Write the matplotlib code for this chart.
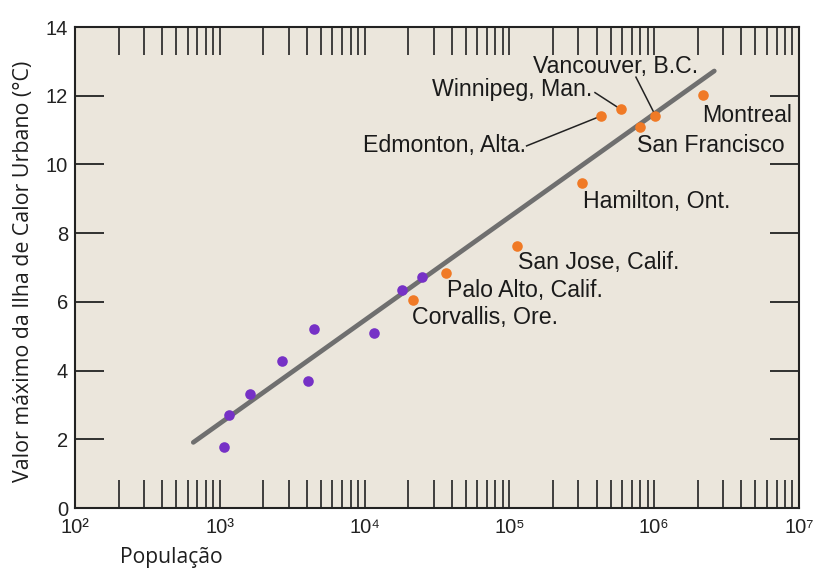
import numpy as np
import matplotlib
matplotlib.use("Agg")
import matplotlib.pyplot as plt
from matplotlib.ticker import LogLocator, FixedLocator, FuncFormatter, NullFormatter

plt.rcParams["font.family"] = ["Liberation Sans", "DejaVu Sans"]

# ---- data ----
purple_pop = [1074, 1163, 1617, 2675, 4087, 4475, 11610, 18040, 24800]
purple_dt = [1.78, 2.71, 3.32, 4.29, 3.71, 5.21, 5.08, 6.34, 6.71]

orange_names = ["Corvallis, Ore.", "Palo Alto, Calif.", "San Jose, Calif.", "Hamilton, Ont.",
                "Edmonton, Alta.", "Winnipeg, Man.", "San Francisco", "Vancouver, B.C.", "Montreal"]
orange_pop = [21700, 36300, 113500, 318700, 429400, 590000, 798000, 1020000, 2180000]
orange_dt = [6.05, 6.85, 7.63, 9.47, 11.41, 11.60, 11.08, 11.42, 12.02]

fit_pop = [656, 2600000]
fit_dt = [1.91, 12.72]

y_ticks = [0, 2, 4, 6, 8, 10, 12, 14]
x_decades = [2, 3, 4, 5, 6, 7]
sup = {2: "²", 3: "³", 4: "⁴", 5: "⁵", 6: "⁶", 7: "⁷"}

# label anchor (left, vertical centre) in data coords
label_pos = {
    "Corvallis, Ore.": (21100, 5.54),
    "Palo Alto, Calif.": (36900, 6.32),
    "San Jose, Calif.": (114500, 7.15),
    "Hamilton, Ont.": (322000, 8.91),
    "Edmonton, Alta.": (9700, 10.54),
    "Winnipeg, Man.": (29000, 12.17),
    "San Francisco": (757000, 10.54),
    "Vancouver, B.C.": (145500, 12.84),
    "Montreal": (2130000, 11.41),
}
# leader line start points (data coords), ending at the city's point
leaders = {
    "Edmonton, Alta.": (131500, 10.54),
    "Winnipeg, Man.": (390000, 12.09),
    "Vancouver, B.C.": (748000, 12.54),
}

fig = plt.figure(figsize=(8.16, 5.68), dpi=100)
fig.patch.set_facecolor("white")
ax = fig.add_axes([75/816, 1-508/568, 724/816, 481/568])
ax.set_facecolor("#ebe6dc")

ax.set_xscale("log")
ax.set_xlim(1e2, 1e7)
ax.set_ylim(0, 14)

# trend line
ax.plot(fit_pop, fit_dt, color="#6f6f6f", lw=3.4, solid_capstyle="round", zorder=2)

ax.scatter(purple_pop, purple_dt, s=58, color="#7631c6", zorder=3, linewidths=0)
ax.scatter(orange_pop, orange_dt, s=58, color="#f07a26", zorder=3, linewidths=0)

for name in orange_names:
    lx, ly = label_pos[name]
    ax.text(lx, ly, name, ha="left", va="center", zorder=4, fontsize=16.7, color="#1a1a1a")

for name, (sx, sy) in leaders.items():
    i = orange_names.index(name)
    ax.plot([sx, orange_pop[i]], [sy, orange_dt[i]], color="#222222", lw=1.1, zorder=2.5)

# axes styling
for sp in ax.spines.values():
    sp.set_linewidth(1.5)
    sp.set_color("#222222")

ax.yaxis.set_major_locator(FixedLocator(y_ticks))
ax.tick_params(axis="y", which="major", direction="in", length=21, width=1.3,
               left=True, right=True, labelleft=True, labelright=False,
               labelsize=14.5, pad=5, colors="#222222")

major_x = [10.0**d for d in x_decades]
ax.xaxis.set_major_locator(FixedLocator(major_x))
ax.xaxis.set_minor_locator(LogLocator(base=10, subs=np.arange(2, 10), numticks=20))
ax.xaxis.set_major_formatter(FuncFormatter(lambda v, p: "10" + sup[int(round(np.log10(v)))]))
ax.xaxis.set_minor_formatter(NullFormatter())
ax.tick_params(axis="x", which="both", direction="in", length=20, width=1.2,
               top=True, bottom=True, labelsize=14.5, pad=7, colors="#222222")

fig.text(24/816, 1-271/568, "Valor máximo da Ilha de Calor Urbano (°C)", rotation=90,
         ha="center", va="center", family="Open Sans", fontsize=15.4, color="#1e1e1e")
fig.text(120/816, 1-557/568, "População", ha="left", va="center",
         family="Open Sans", fontsize=15.2, color="#1e1e1e")

fig.savefig("out.png", dpi=100, facecolor="white")
